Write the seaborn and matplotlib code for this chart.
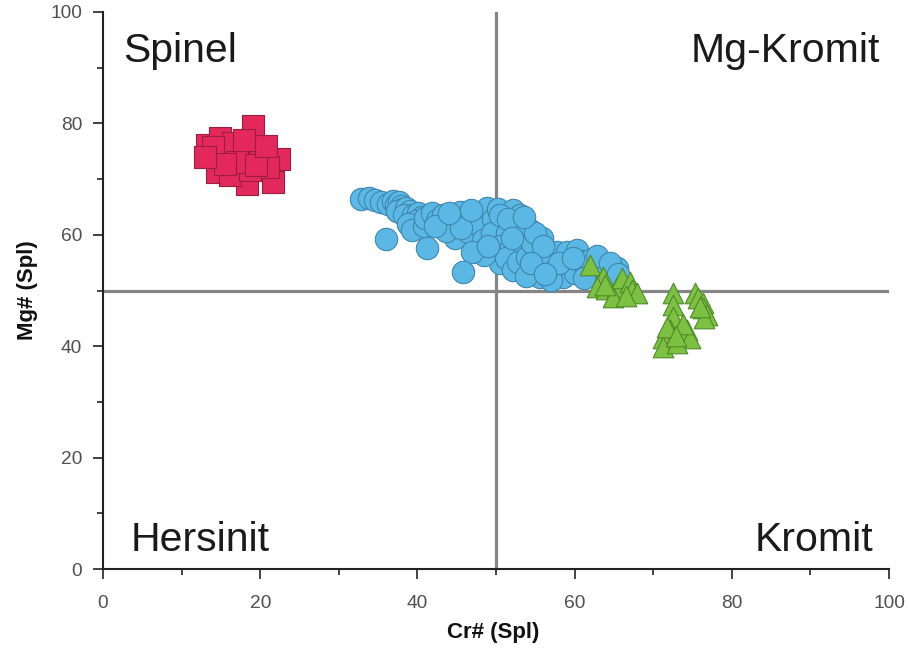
import matplotlib
matplotlib.use("Agg")
import matplotlib.pyplot as plt
from matplotlib.ticker import MultipleLocator
import seaborn as sns
import pandas as pd

# Spinel group (squares)
spinel_cr = [19.1, 13.2, 22.4, 18.3, 21.6, 14.9, 17.8, 15.9, 14.5, 16.2,
             20.0, 21.0, 16.5, 18.7, 14.0, 17.0, 19.5, 15.5, 20.8, 13.0,
             18.0]
spinel_mg = [79.5, 76.1, 73.6, 69.1, 69.5, 77.4, 74.3, 75.2, 71.3, 70.7,
             74.9, 72.2, 76.5, 71.6, 75.8, 73.0, 72.5, 72.8, 76.0, 74.0,
             77.0]

# Intermediate group (circles)
mid_cr = [32.8, 33.8, 34.6, 35.4, 36.2, 36.9, 37.3, 37.6, 37.9, 38.1,
          37.4, 38.6, 39.0, 38.3, 39.5, 40.1, 40.6, 39.8, 38.8, 39.3,
          40.9, 41.0, 41.8, 42.5, 43.2, 44.1, 45.4, 44.8, 43.6, 46.2,
          47.1, 47.6, 46.5, 48.0, 48.9, 48.3, 49.6, 50.2, 50.8, 49.5,
          51.4, 52.2, 53.0, 52.5, 54.3, 53.4, 50.5, 51.8, 53.0, 50.5,
          51.3, 52.2, 52.8, 54.0, 54.6, 55.2, 55.6, 56.5, 55.9, 57.8,
          56.8, 57.4, 58.5, 59.2, 59.0, 60.3, 60.8, 60.0, 61.4, 62.0,
          62.6, 63.2, 64.1, 65.4, 61.2, 57.0, 53.8, 48.5, 47.0, 45.5,
          42.3, 44.0, 46.8, 50.5, 51.5, 49.0, 52.0, 55.0, 56.0, 58.0,
          54.5, 56.2, 59.8, 62.8, 64.5, 65.5, 53.6,
          36.0, 41.2, 45.8]
mid_mg = [66.4, 66.6, 66.2, 65.9, 65.6, 66.0, 65.4, 65.9, 65.1, 64.6,
          64.3, 64.9, 64.2, 63.6, 63.6, 63.9, 63.2, 62.4, 62.0, 60.9,
          61.6, 63.0, 63.9, 62.7, 63.5, 62.1, 64.1, 59.4, 60.6, 62.4,
          63.2, 58.7, 60.5, 61.5, 64.8, 59.0, 62.8, 64.6, 62.0, 60.3,
          60.3, 64.5, 63.6, 62.1, 60.9, 61.8, 58.0, 57.2, 57.8, 54.9,
          55.8, 53.7, 55.2, 56.0, 58.6, 54.4, 52.4, 57.3, 59.5, 56.9,
          55.0, 53.5, 52.4, 54.9, 57.0, 57.3, 55.3, 53.1, 53.6, 55.5,
          52.8, 54.6, 53.1, 54.0, 52.2, 51.8, 52.6, 56.3, 57.0, 61.2,
          61.5, 64.0, 64.5, 63.5, 62.8, 58.0, 59.5, 60.3, 58.0, 55.0,
          55.0, 53.0, 55.8, 56.2, 55.0, 53.0, 63.2,
          59.2, 57.6, 53.3]

# Chromite group (triangles)
chrom_cr = [62.0, 63.6, 62.8, 64.0, 65.4, 64.9, 66.0, 67.0, 67.3, 67.9,
            66.6, 63.9, 72.5, 72.5, 72.5, 72.1, 71.3, 71.3, 71.8, 73.4,
            74.3, 74.7, 73.0, 73.8, 72.9, 75.3, 75.7, 76.3, 76.3, 76.8,
            76.4, 76.0]
chrom_mg = [54.6, 52.4, 50.6, 50.2, 50.6, 48.8, 52.2, 51.5, 50.1, 49.6,
            49.0, 51.0, 49.5, 47.4, 45.2, 42.9, 41.5, 39.9, 43.5, 42.4,
            42.9, 41.5, 40.6, 44.0, 41.8, 49.5, 48.7, 47.8, 46.9, 45.6,
            45.1, 47.0]

quadrant_names = ["Spinel", "Mg-Kromit", "Hersinit", "Kromit"]

sns.set_style("ticks")
plt.rcParams["font.family"] = ["Liberation Sans", "DejaVu Sans"]

fig = plt.figure(figsize=(9.09, 6.5), dpi=100)
ax = fig.add_axes([103 / 909, 1 - 569 / 650, 786 / 909, 557 / 650])

# Boundary lines at Cr# = 50 and Mg# = 50
ax.axvline(50, color="#858585", lw=2.3, zorder=1)
ax.axhline(50, color="#858585", lw=2.3, zorder=1)

groups = [
    (spinel_cr, spinel_mg, "s", "#E3285C", "#9c1d40", 230),
    (mid_cr, mid_mg, "o", "#5BB8E5", "#3f86ad", 260),
    (chrom_cr, chrom_mg, "^", "#7DC143", "#4f8a27", 220),
]
for cr, mg, mk, fc, ec, s in groups:
    df = pd.DataFrame({"cr": cr, "mg": mg})
    sns.scatterplot(data=df, x="cr", y="mg", marker=mk, color=fc,
                    edgecolor=ec, linewidth=0.8, s=s, ax=ax, zorder=3,
                    legend=False)

ax.set_xlim(0, 100)
ax.set_ylim(0, 100)
ax.xaxis.set_major_locator(MultipleLocator(20))
ax.xaxis.set_minor_locator(MultipleLocator(10))
ax.yaxis.set_major_locator(MultipleLocator(20))
ax.yaxis.set_minor_locator(MultipleLocator(10))
ax.tick_params(which="major", direction="out", length=7, width=1.2,
               color="#222222", labelsize=13.8, labelcolor="#505050")
ax.tick_params(which="minor", direction="out", length=4, width=1.2,
               color="#222222")
ax.tick_params(axis="x", which="major", pad=12)
ax.tick_params(axis="y", which="major", pad=8)

for side in ["top", "right"]:
    ax.spines[side].set_visible(False)
for side in ["left", "bottom"]:
    ax.spines[side].set_linewidth(1.5)
    ax.spines[side].set_color("#222222")

ax.set_xlabel("Cr# (Spl)", fontsize=16, fontweight="bold", color="#111111")
ax.set_ylabel("Mg# (Spl)", fontsize=16, fontweight="bold", color="#111111")
ax.xaxis.set_label_coords(0.496, -0.096)
ax.yaxis.set_label_coords(-0.083, 0.5)

fs = 29.5
ax.text(0.0254, 0.91, quadrant_names[0], transform=ax.transAxes, fontsize=fs,
        ha="left", va="baseline", color="#1a1a1a")
ax.text(0.9885, 0.91, quadrant_names[1], transform=ax.transAxes, fontsize=fs,
        ha="right", va="baseline", color="#1a1a1a")
ax.text(0.0356, 0.032, quadrant_names[2], transform=ax.transAxes, fontsize=fs,
        ha="left", va="baseline", color="#1a1a1a")
ax.text(0.98, 0.032, quadrant_names[3], transform=ax.transAxes, fontsize=fs,
        ha="right", va="baseline", color="#1a1a1a")

fig.savefig("out.png", dpi=100)
